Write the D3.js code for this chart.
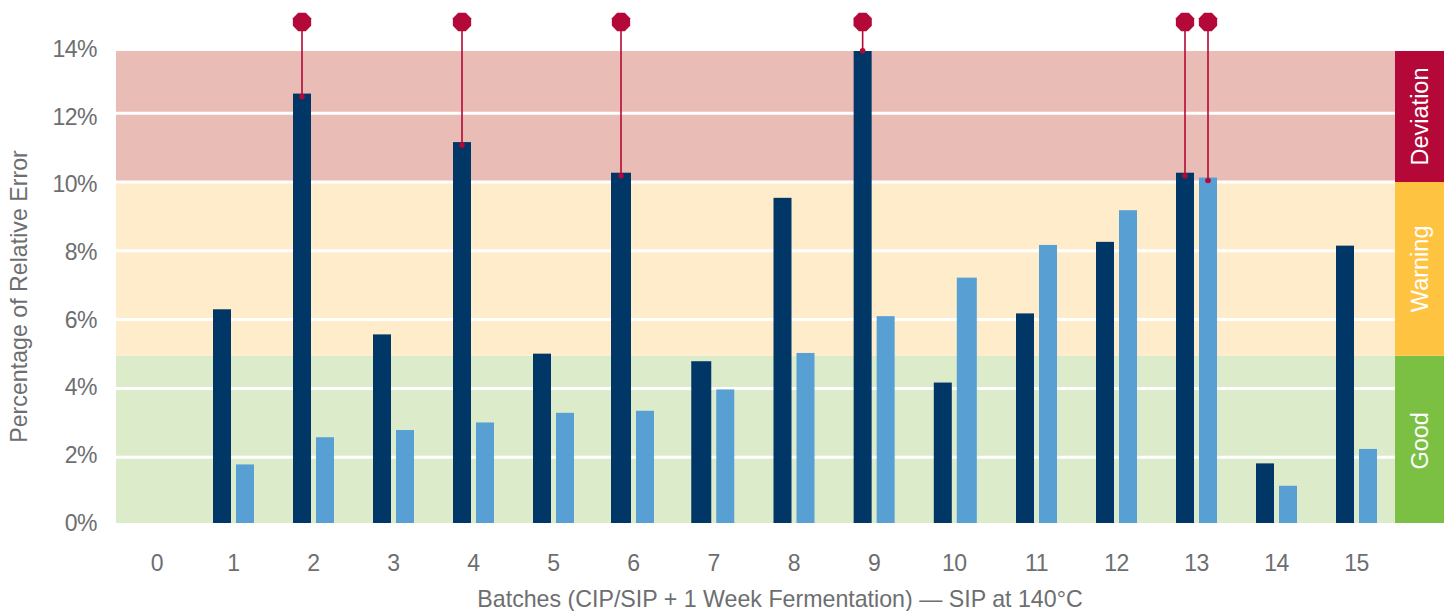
<!DOCTYPE html>
<html lang="en">
<head>
<meta charset="UTF-8">
<title>Percentage of Relative Error</title>
<style>
  body { margin: 0; background: #fff; }
  text { font-family: "Liberation Sans", Arial, sans-serif; fill: #6d6e70; }
  .tick text { font-size: 23px; letter-spacing: -0.5px; }
  .axis-title { font-size: 23.2px; }
  .zone-label { font-size: 23.5px; fill: #fff; }
</style>
</head>
<body>
<svg height="611" width="1453"></svg>
<script src="https://d3js.org/d3.v7.min.js"></script>
<script>

  var batches = [0, 1, 2, 3, 4, 5, 6, 7, 8, 9, 10, 11, 12, 13, 14, 15];
  var darkValues = [null, 6.3, 12.57, 5.57, 11.16, 5.01, 10.27, 4.79, 9.54, 13.9, 4.17, 6.18, 8.26, 10.27, 1.82, 8.15];
  var lightValues = [null, 1.79, 2.58, 2.79, 3.01, 3.29, 3.35, 3.97, 5.03, 6.1, 7.22, 8.17, 9.18, 10.13, 1.17, 2.24];
  var pinsDark = [2, 4, 6, 9, 13];
  var pinsLight = [13];
  var wideDark = [6, 7];
  var wideLight = [10];

  var zoneNames = ['Good', 'Warning', 'Deviation'];
  var zoneFrom = [0, 4.95, 10];
  var zoneTo = [4.95, 10, 14];
  var zoneFills = ['#dcebca', '#feecca', '#e9bcb6'];
  var zoneStrip = ['#7bc043', '#ffc342', '#b30838'];

  var gridTicks = [2, 4, 6, 8, 10, 12];
  var axisTicks = [0, 2, 4, 6, 8, 10, 12, 14];

  var svg = d3.select('svg');

  var plot = {left: 116, right: 1395, strip: 1444, top: 51, bottom: 523};
  var barGap = 2.5;
  var pinY = 22;

  // grid lines and bands sit a little off the printed axis labels in the original
  var y = d3.scaleLinear().domain([0, 14]).range([526, 44.4]);
  var yLabels = d3.scaleLinear().domain([0, 14]).range([523, 49]);
  // batch spacing is not quite even in the original either
  var x = d3.scaleLinear().domain([0, 1, 6, 8, 10, 11, 15]).range([157, 233.5, 633.5, 794, 954.3, 1036.5, 1356.5]);

  function barW(b, wide) { return wide.indexOf(b) >= 0 ? 20 : 18; }
  function darkLeft(b) { return x(b) - barGap - barW(b, wideDark); }
  function lightLeft(b) { return x(b) + barGap; }

  svg.append('clipPath').attr('id', 'plot-clip')
    .append('rect')
    .attr('x', plot.left)
    .attr('y', plot.top)
    .attr('width', plot.strip - plot.left)
    .attr('height', plot.bottom - plot.top);

  var chart = svg.append('g').attr('clip-path', 'url(#plot-clip)');

  chart.selectAll('.band')
    .data(zoneNames)
    .enter()
    .append('rect')
    .attr('class', 'band')
    .attr('x', plot.left)
    .attr('width', plot.right - plot.left)
    .attr('y', function(d, i) { return y(zoneTo[i]); })
    .attr('height', function(d, i) { return y(zoneFrom[i]) - y(zoneTo[i]); })
    .attr('fill', function(d, i) { return zoneFills[i]; });

  chart.selectAll('.grid')
    .data(gridTicks)
    .enter()
    .append('line')
    .attr('class', 'grid')
    .attr('x1', plot.left)
    .attr('x2', plot.right)
    .attr('y1', function(d) { return y(d); })
    .attr('y2', function(d) { return y(d); })
    .attr('stroke', '#fff')
    .attr('stroke-width', 3);

  chart.selectAll('.strip')
    .data(zoneNames)
    .enter()
    .append('rect')
    .attr('class', 'strip')
    .attr('x', plot.right)
    .attr('width', plot.strip - plot.right)
    .attr('y', function(d, i) { return y(zoneTo[i]); })
    .attr('height', function(d, i) { return y(zoneFrom[i]) - y(zoneTo[i]); })
    .attr('fill', function(d, i) { return zoneStrip[i]; });

  function drawBars(name, values, left, wide, fill) {
    chart.selectAll('.' + name)
      .data(batches.filter(function(b) { return values[b] !== null; }))
      .enter()
      .append('rect')
      .attr('class', name)
      .attr('x', left)
      .attr('width', function(b) { return barW(b, wide); })
      .attr('y', function(b) { return y(values[b]); })
      .attr('height', function(b) { return plot.bottom - y(values[b]); })
      .attr('fill', fill);
  }
  drawBars('dark', darkValues, darkLeft, wideDark, '#003767');
  drawBars('light', lightValues, lightLeft, wideLight, '#58a0d3');

  var octagon = d3.lineRadial()
    .angle(function(d) { return d * Math.PI / 4 + Math.PI / 8; })
    .radius(9.9)
    .curve(d3.curveLinearClosed);

  function drawPins(list, values, left, wide) {
    list.forEach(function(b) {
      var px = left(b) + barW(b, wide) / 2;
      var py = y(values[b]) + 3;
      svg.append('line')
        .attr('x1', px).attr('x2', px)
        .attr('y1', pinY).attr('y2', py)
        .attr('stroke', '#b30838')
        .attr('stroke-width', 1.6);
      svg.append('circle')
        .attr('cx', px).attr('cy', py)
        .attr('r', 2.8)
        .attr('fill', '#b30838');
      svg.append('path')
        .attr('d', octagon(d3.range(8)))
        .attr('transform', 'translate(' + px + ',' + pinY + ')')
        .attr('fill', '#b30838');
    });
  }
  drawPins(pinsDark, darkValues, darkLeft, wideDark);
  drawPins(pinsLight, lightValues, lightLeft, wideLight);

  var yAxis = d3.axisLeft(yLabels)
    .tickValues(axisTicks)
    .tickSize(0)
    .tickFormat(function(d) { return d + '%'; });

  svg.append('g')
    .attr('transform', 'translate(100,0)')
    .call(yAxis)
    .call(function(g) { g.select('.domain').remove(); });

  var xAxis = d3.axisBottom(x)
    .tickValues(batches)
    .tickSize(0)
    .tickFormat(d3.format('d'));

  svg.append('g')
    .attr('transform', 'translate(-0.5,552)')
    .call(xAxis)
    .call(function(g) { g.select('.domain').remove(); });

  svg.selectAll('.tick text').attr('fill', null);

  svg.append('text')
    .attr('class', 'axis-title')
    .attr('x', 780)
    .attr('y', 607)
    .attr('text-anchor', 'middle')
    .text('Batches (CIP/SIP + 1 Week Fermentation) \u2014 SIP at 140\u00b0C');

  svg.append('text')
    .attr('class', 'axis-title')
    .attr('transform', 'translate(27,296.5) rotate(-90)')
    .attr('text-anchor', 'middle')
    .text('Percentage of Relative Error');

  svg.selectAll('.zone-label')
    .data(zoneNames)
    .enter()
    .append('text')
    .attr('class', 'zone-label')
    .attr('text-anchor', 'middle')
    .attr('transform', function(d, i) {
      var mid = (Math.max(y(zoneTo[i]), plot.top) + y(zoneFrom[i])) / 2;
      return 'translate(1428,' + mid + ') rotate(-90)';
    })
    .text(function(d) { return d; });

</script>
</body>
</html>
